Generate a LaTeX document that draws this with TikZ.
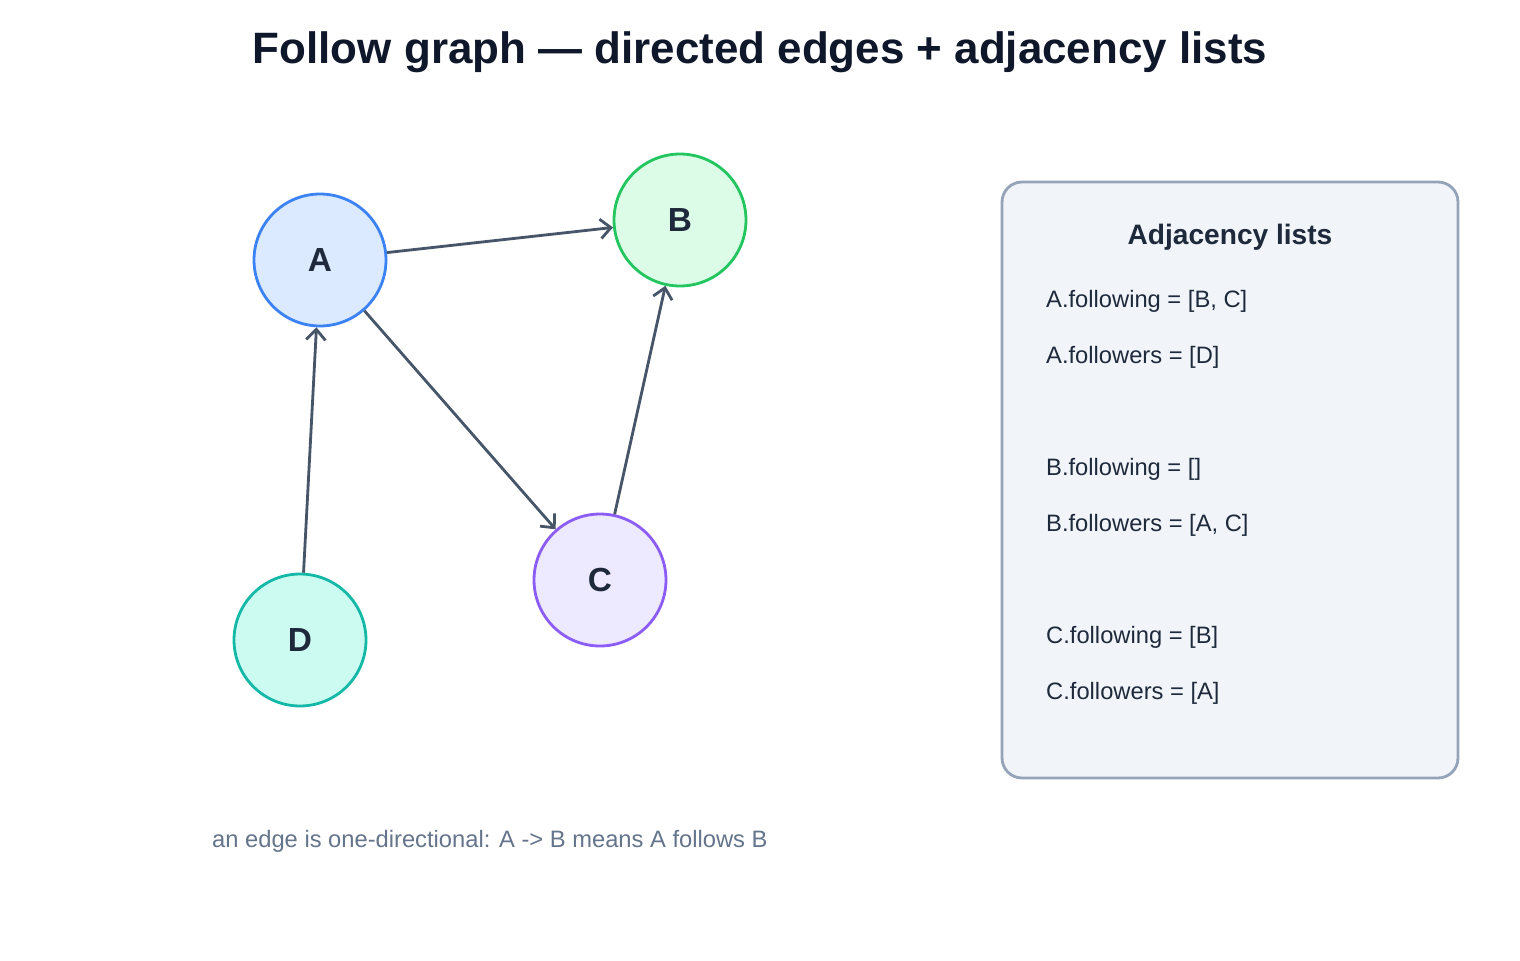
\documentclass[tikz,border=0pt]{standalone}
\usepackage{fontspec}
\setmainfont{Liberation Sans}
\usetikzlibrary{arrows.meta}
\definecolor{edgec}{HTML}{475569}
\definecolor{inkc}{HTML}{1E293B}
\definecolor{titlec}{HTML}{0F172A}
\definecolor{notec}{HTML}{64748B}
\tikzset{
  user/.style={draw, circle, line width=1.6pt, minimum size=2.64cm, inner sep=0pt,
    font=\fontsize{19}{22}\selectfont\bfseries, text=inkc},
  follows/.style={draw=edgec, line width=1.6pt, -{Straight Barb[length=6pt,width=11pt]}},
  listline/.style={anchor=west, font=\fontsize{13.5}{16}\selectfont, text=inkc}
}
\begin{document}
\begin{tikzpicture}[x=0.02cm,y=-0.02cm]
\useasboundingbox (0,0) rectangle (1520,960);
\node[font=\fontsize{25}{30}\selectfont\bfseries, text=titlec] (title) at (760,52) {Follow graph — directed edges + adjacency lists};

\node[user, draw=blue!60!cyan!80!black, draw={rgb,255:red,59;green,130;blue,246}, fill={rgb,255:red,219;green,234;blue,254}] (A) at (320,260) {A};
\node[user, draw={rgb,255:red,34;green,197;blue,94}, fill={rgb,255:red,220;green,252;blue,231}] (B) at (680,220) {B};
\node[user, draw={rgb,255:red,139;green,92;blue,246}, fill={rgb,255:red,237;green,233;blue,254}] (C) at (600,580) {C};
\node[user, draw={rgb,255:red,20;green,184;blue,166}, fill={rgb,255:red,204;green,251;blue,241}] (D) at (300,640) {D};

\path[follows] (A) -- (B);
\path[follows] (A) -- (C);
\path[follows] (C) -- (B);
\path[follows] (D) -- (A);

\draw[line width=1.6pt, draw={rgb,255:red,148;green,163;blue,184}, fill={rgb,255:red,241;green,245;blue,249}, rounded corners=0.4cm] (1002,182) rectangle (1458,778);
\node[font=\fontsize{16}{19}\selectfont\bfseries, text=inkc] (head) at (1230,237) {Adjacency lists};
\node[listline] (l1) at (1040,301) {A.following = [B, C]};
\node[listline] (l2) at (1040,357) {A.followers = [D]};
\node[listline] (l3) at (1040,469) {B.following = []};
\node[listline] (l4) at (1040,525) {B.followers = [A, C]};
\node[listline] (l5) at (1040,637) {C.following = [B]};
\node[listline] (l6) at (1040,693) {C.followers = [A]};

\node[anchor=west, font=\fontsize{13.5}{16}\selectfont, text=notec] (note) at (206,841) {an edge is one-directional: A -> B means A follows B};
\end{tikzpicture}
\end{document}
